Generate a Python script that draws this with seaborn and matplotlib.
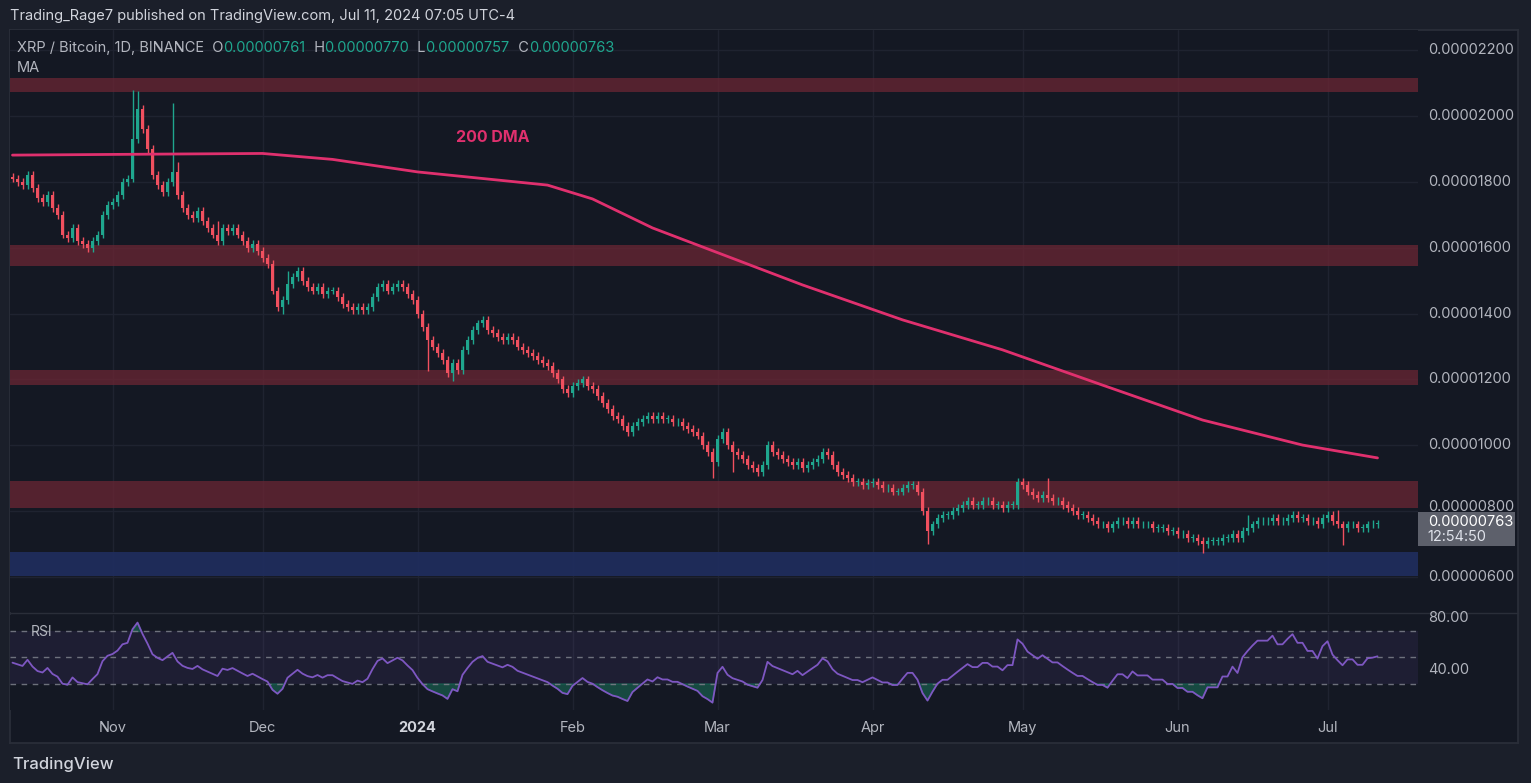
import numpy as np
import pandas as pd
import matplotlib
matplotlib.use("Agg")
import matplotlib.pyplot as plt
import seaborn as sns

# ---------------- data (prices in units of 1e-8 BTC) ----------------
start_date = "2023-10-12"
closes = [
    1810, 1800, 1790, 1820, 1780, 1750, 1740, 1760, 1720, 1700,
    1640, 1630, 1660, 1620, 1610, 1600, 1620, 1640, 1700, 1730,
    1740, 1760, 1800, 1810, 1930, 2020, 1960, 1900, 1820, 1790,
    1770, 1800, 1830, 1760, 1720, 1700, 1690, 1710, 1680, 1660,
    1640, 1620, 1660, 1650, 1660, 1640, 1620, 1600, 1610, 1590,
    1570, 1550, 1470, 1420, 1440, 1490, 1510, 1530, 1500, 1480,
    1470, 1480, 1460, 1470, 1470, 1450, 1430, 1420, 1410, 1420,
    1410, 1420, 1450, 1480, 1490, 1470, 1480, 1490, 1480, 1460,
    1440, 1400, 1360, 1320, 1300, 1280, 1260, 1220, 1250, 1230,
    1290, 1320, 1350, 1370, 1380, 1350, 1340, 1330, 1320, 1330,
    1320, 1300, 1290, 1280, 1270, 1260, 1250, 1240, 1220, 1200,
    1170, 1160, 1180, 1190, 1200, 1180, 1170, 1150, 1130, 1110,
    1090, 1080, 1060, 1040, 1060, 1070, 1080, 1090, 1080, 1090,
    1080, 1080, 1070, 1070, 1060, 1050, 1040, 1030, 1000, 980,
    950, 1020, 1040, 1000, 980, 970, 960, 940, 930, 920,
    940, 1000, 980, 970, 960, 950, 940, 950, 930, 940,
    950, 960, 980, 970, 940, 920, 910, 900, 890, 890,
    880, 885, 890, 880, 870, 870, 860, 860, 870, 880,
    880, 860, 800, 740, 760, 780, 790, 790, 800, 810,
    820, 830, 820, 820, 830, 830, 820, 820, 810, 820,
    820, 890, 880, 860, 850, 840, 850, 840, 830, 830,
    820, 810, 800, 790, 790, 780, 770, 760, 760, 750,
    760, 770, 770, 760, 770, 760, 760, 760, 750, 750,
    750, 740, 740, 730, 730, 720, 720, 710, 700, 710,
    710, 710, 720, 720, 730, 720, 740, 750, 760, 770,
    770, 770, 780, 770, 770, 780, 790, 780, 780, 770,
    770, 760, 780, 790, 770, 760, 750, 760, 760, 750,
    750, 760, 761, 763,
]
first_open = 1815
# notable wick extremes (day index -> price)
wick_highs = {24: 2080, 25: 2075, 32: 2040, 33: 1860, 41: 1680, 53: 1480,
              55: 1530, 201: 900, 207: 900, 247: 790, 265: 805}
wick_lows = {54: 1400, 83: 1225, 88: 1195, 140: 900, 144: 920, 183: 700,
             238: 672, 266: 698}
default_wick = 12
rsi_seed_gain, rsi_seed_loss = 14.0, 16.0  # Wilder averages before first bar

ma_dates = ["2023-10-12", "2023-11-10", "2023-12-01", "2023-12-15", "2024-01-01",
            "2024-01-27", "2024-02-05", "2024-02-17", "2024-03-18", "2024-04-07",
            "2024-04-27", "2024-05-17", "2024-06-06", "2024-06-26", "2024-07-11"]
ma_values = [1881, 1884, 1886, 1868, 1830, 1790, 1748, 1660, 1487, 1381,
             1290, 1183, 1077, 1001, 962]

zones_red = [(2073, 2115), (1544, 1608), (1183, 1229), (810, 892)]
zone_blue = (604, 676)

price_ticks = [600, 800, 1000, 1200, 1400, 1600, 1800, 2000, 2200]
month_ticks = ["2023-11-01", "2023-12-01", "2024-01-01", "2024-02-01", "2024-03-01",
               "2024-04-01", "2024-05-01", "2024-06-01", "2024-07-01"]
month_labels = ["Nov", "Dec", "2024", "Feb", "Mar", "Apr", "May", "Jun", "Jul"]

# ---------------- derived ----------------
dates = pd.date_range(start_date, periods=len(closes), freq="D")
c = np.array(closes, float)
o = np.concatenate([[first_open], c[:-1]])
hi = np.maximum(o, c) + default_wick
lo = np.minimum(o, c) - default_wick
for k, v in wick_highs.items():
    hi[k] = max(hi[k], v)
for k, v in wick_lows.items():
    lo[k] = min(lo[k], v)

delta = np.diff(np.concatenate([[first_open], c]))
g, l = rsi_seed_gain, rsi_seed_loss
rsi_vals = []
for d in delta:
    g = (g * 13 + max(d, 0)) / 14
    l = (l * 13 + max(-d, 0)) / 14
    rsi_vals.append(100 - 100 / (1 + g / max(l, 1e-9)))
rsi_df = pd.DataFrame({"date": dates, "rsi": rsi_vals})

# ---------------- style ----------------
W, H = 1531, 783
BG_OUT = "#1b1f2a"
BG = "#141823"
GRID = "#1f2330"
TXT = "#b2b5be"
UP = "#1fa68e"
DN = "#f0505f"
sns.set_theme(style="dark", rc={"axes.facecolor": BG, "figure.facecolor": BG_OUT})
plt.rcParams["font.family"] = "Inter"

fig = plt.figure(figsize=(W/100, H/100), dpi=100)
def px(x0, y0, x1, y1):
    return [x0/W, 1 - y1/H, (x1-x0)/W, (y1-y0)/H]

bgax = fig.add_axes(px(10, 30, 1518, 743))
bgax.set_facecolor(BG); bgax.set_xticks([]); bgax.set_yticks([])
for s in bgax.spines.values():
    s.set_color("#2a2e39")

xmin = pd.Timestamp("2023-10-12") - pd.Timedelta(hours=12)
xmax = xmin + pd.Timedelta(days=(1418-10)/5)

ax = fig.add_axes(px(10, 30, 1418, 612))
ax.set_facecolor(BG)
pmax = 2200 + (50-30)*3.035
pmin = 2200 - (612-50)*3.035
ax.set_ylim(pmin, pmax)
ax.set_xlim(xmin, xmax)

mt = pd.to_datetime(month_ticks)
for d in mt:
    ax.axvline(d, color=GRID, lw=1, zorder=0)
for p in price_ticks:
    ax.axhline(p, color=GRID, lw=1, zorder=0)
for lo_, hi_ in zones_red:
    ax.axhspan(lo_, hi_, color="#6b2634", alpha=0.75, lw=0, zorder=1)
ax.axhspan(*zone_blue, color="#1f2d5c", alpha=0.95, lw=0, zorder=1)

cols = [UP if cc >= oo else DN for oo, cc in zip(o, c)]
ax.vlines(dates, lo, hi, colors=cols, lw=1, zorder=3)
body_h = np.maximum(np.abs(c - o), 2)
ax.bar(dates, body_h, bottom=np.minimum(o, c), width=0.7, color=cols, lw=0, zorder=4)

ma_df = pd.DataFrame({"date": pd.to_datetime(ma_dates), "ma": ma_values})
sns.lineplot(data=ma_df, x="date", y="ma", ax=ax, color="#e0306e", lw=2, zorder=5)
ax.set_xlabel(""); ax.set_ylabel("")
ax.set_xticks([]); ax.set_yticks([])
for s in ax.spines.values():
    s.set_visible(False)
ax.text(pd.Timestamp("2024-01-16"), 2200 - (137-50)*3.035, "200 DMA", color="#e0306e",
        fontsize=11.5, fontweight="bold", va="center", ha="center")

for p in price_ticks:
    y = 50 + (2200 - p) / 3.035
    if p == 800:
        continue
    fig.text(1428/W, 1 - y/H, f"{p/1e8:.8f}", color=TXT, fontsize=10.5, va="center")
fig.text(1428/W, 1 - 507/H, f"{800/1e8:.8f}", color=TXT, fontsize=10.5, va="center")
lx = fig.add_axes(px(1418, 512, 1515, 546))
lx.set_facecolor("#5d606b"); lx.set_xticks([]); lx.set_yticks([])
for s in lx.spines.values():
    s.set_visible(False)
lx.text(0.1, 0.72, f"{closes[-1]/1e8:.8f}", color="white", fontsize=10.5, va="center", transform=lx.transAxes)
lx.text(0.1, 0.26, "12:54:50", color="#e0e3eb", fontsize=10.5, va="center", transform=lx.transAxes)

fig.add_artist(plt.Line2D([10/W, 1518/W], [1-613/H, 1-613/H], color="#2a2e39", lw=1))

rax = fig.add_axes(px(10, 615, 1418, 710))
rax.set_facecolor(BG)
rtop = 70 + (631-615)/1.32
rbot = 30 - (710-684)/1.32
rax.set_ylim(rbot, rtop)
rax.set_xlim(xmin, xmax)
for d in mt:
    rax.axvline(d, color=GRID, lw=1, zorder=0)
rax.axhspan(30, 70, color="#7e57c2", alpha=0.10, lw=0)
for lvl in (70, 50, 30):
    rax.axhline(lvl, color="#787b86", lw=1, ls=(0, (4, 4)), alpha=0.9)
sns.lineplot(data=rsi_df, x="date", y="rsi", ax=rax, color="#7e57c2", lw=1.3)
rv = rsi_df["rsi"].values
rax.fill_between(rsi_df["date"], rv, 30, where=rv < 30, color="#1a7a60", alpha=0.5, interpolate=True)
rax.fill_between(rsi_df["date"], rv, 70, where=rv > 70, color="#1a7a60", alpha=0.5, interpolate=True)
rax.set_xlabel(""); rax.set_ylabel("")
rax.set_xticks([]); rax.set_yticks([])
for s in rax.spines.values():
    s.set_visible(False)
rax.text(0.015, 69, "RSI", color=TXT, fontsize=10, va="center",
         transform=rax.get_yaxis_transform())
fig.text(1428/W, 1 - 618/H, "80.00", color=TXT, fontsize=10.5, va="center")
fig.text(1428/W, 1 - 670/H, "40.00", color=TXT, fontsize=10.5, va="center")

for d, lab in zip(mt, month_labels):
    xf = (10 + (d - xmin) / pd.Timedelta(days=1) * 5) / W
    fig.text(xf, 1 - 728/H, lab, color="#d1d4dc" if lab == "2024" else TXT,
             fontsize=10.5, ha="center", va="center",
             fontweight="bold" if lab == "2024" else "normal")

fig.text(10/W, 1 - 16/H, "Trading_Rage7 published on TradingView.com, Jul 11, 2024 07:05 UTC-4",
         color="#d1d4dc", fontsize=10.5, va="center")
lg = [("XRP / Bitcoin, 1D, BINANCE  O", TXT), ("0.00000761", UP), ("  H", TXT), ("0.00000770", UP),
      ("  L", TXT), ("0.00000757", UP), ("  C", TXT), ("0.00000763", UP)]
fig.canvas.draw()
xcur = 17
r = fig.canvas.get_renderer()
for s, col in lg:
    t = fig.text(xcur/W, 1 - 48/H, s, color=col, fontsize=10.5, va="center")
    xcur += t.get_window_extent(r).width
fig.text(17/W, 1 - 68/H, "MA", color=TXT, fontsize=10.5, va="center")
fig.text(12/W, 1 - 764/H, "TradingView", color="#d1d4dc", fontsize=12, va="center", fontweight="medium")

fig.savefig("out.png", dpi=100, facecolor=BG_OUT)
